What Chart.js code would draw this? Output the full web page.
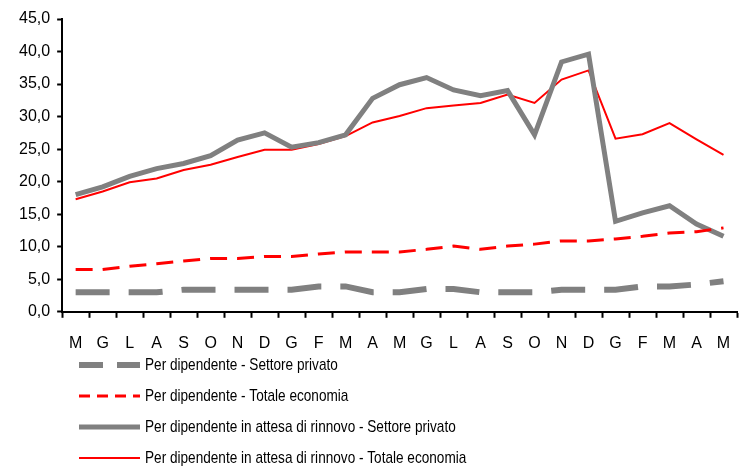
<!DOCTYPE html>
<html>
<head>
<meta charset="utf-8">
<script src="https://cdn.jsdelivr.net/npm/chart.js@4"></script>
<style>
  body { margin: 0; background: #fff; }
  #wrap { width: 749px; height: 471px; }
</style>
</head>
<body>
<div id="wrap"><canvas id="myChart" width="749" height="471"></canvas></div>
<script>
// mesi (mag -> mag, due anni)
var mesi = ['M','G','L','A','S','O','N','D','G','F','M','A','M','G','L','A','S','O','N','D','G','F','M','A','M'];

var privato = [3.0,3.0,3.0,3.0,3.4,3.4,3.4,3.4,3.4,3.9,3.9,3.0,3.0,3.5,3.5,3.0,3.0,3.0,3.4,3.4,3.4,3.9,3.9,4.2,4.7];
var totale = [6.5,6.5,7.0,7.4,7.8,8.2,8.2,8.5,8.5,8.9,9.2,9.2,9.2,9.6,10.1,9.6,10.1,10.4,10.9,10.9,11.2,11.6,12.1,12.3,12.9];
var attesaPrivato = [18.0,19.2,20.8,22.0,22.8,24.0,26.4,27.5,25.3,26.0,27.2,32.8,34.9,36.0,34.1,33.2,34.0,27.2,38.4,39.6,13.9,15.2,16.3,13.5,11.6];
var attesaTotale = [17.3,18.5,19.9,20.5,21.8,22.6,23.8,24.9,24.9,25.8,27.0,29.1,30.1,31.3,31.7,32.1,33.4,32.1,35.7,37.1,26.6,27.3,29.0,26.5,24.1];

var yTicks = [0,5,10,15,20,25,30,35,40,45];

var ctx = document.getElementById('myChart');

// legenda verticale disegnata sotto il grafico
var legendaSotto = {
    id: 'legendaSotto',
    afterDraw: function(chart) {
        var c = chart.ctx;
        var x0 = 79, x1 = 140, y = 365;
        c.save();
        chart.data.datasets.forEach(function(ds) {
            c.beginPath();
            c.strokeStyle = ds.borderColor;
            c.lineWidth = ds.borderWidth;
            c.setLineDash(ds.legendDash || []);
            c.moveTo(x0, y);
            c.lineTo(x1, y);
            c.stroke();
            c.setLineDash([]);
            // testo stretto come Arial Narrow
            c.save();
            c.translate(145, y);
            c.scale(0.8, 1);
            c.fillStyle = '#000';
            c.font = '17px "Liberation Sans", Arial';
            c.textBaseline = 'middle';
            c.fillText(ds.label, 0, 0);
            c.restore();
            y += 31;
        });
        c.restore();
    }
};

var myLineChart = new Chart(ctx, {
    type: 'line',
    data: {
        labels: mesi,
        datasets: [{
            label: 'Per dipendente - Settore privato',
            data: privato,
            borderColor: '#808080',
            borderWidth: 6,
            borderDash: [34, 19],
            legendDash: [24, 14],
            borderCapStyle: 'butt',
            pointRadius: 0,
            tension: 0,
            fill: false
        }, {
            label: 'Per dipendente - Totale economia',
            data: totale,
            borderColor: '#ff0000',
            borderWidth: 3,
            borderDash: [17, 10],
            legendDash: [11, 7],
            borderCapStyle: 'butt',
            pointRadius: 0,
            tension: 0,
            fill: false
        }, {
            label: 'Per dipendente in attesa di rinnovo - Settore privato',
            data: attesaPrivato,
            borderColor: '#808080',
            borderWidth: 5,
            pointRadius: 0,
            tension: 0,
            fill: false
        }, {
            label: 'Per dipendente in attesa di rinnovo - Totale economia',
            data: attesaTotale,
            borderColor: '#ff0000',
            borderWidth: 2,
            pointRadius: 0,
            tension: 0,
            fill: false
        }]
    },
    options: {
        responsive: false,
        animation: false,
        layout: { padding: { left: 12, right: 12, top: 19, bottom: 102 } },
        plugins: {
            legend: { display: false },
            tooltip: { enabled: false }
        },
        scales: {
            x: {
                offset: true,
                grid: { offset: true, drawOnChartArea: false, color: '#000', tickLength: 6, tickWidth: 2 },
                border: { color: '#000', width: 2 },
                ticks: { color: '#000', font: { family: '"Liberation Sans", Arial', size: 16 }, maxRotation: 0, autoSkip: false, padding: 16 }
            },
            y: {
                min: 0,
                max: 45,
                afterBuildTicks: function(axis) {
                    axis.ticks = yTicks.map(function(v) { return { value: v }; });
                },
                grid: { drawOnChartArea: false, color: '#000', tickLength: 5, tickWidth: 2 },
                border: { color: '#000', width: 2 },
                ticks: {
                    color: '#000',
                    font: { family: '"Liberation Sans", Arial', size: 16 },
                    padding: 7,
                    callback: function(v) { return v.toFixed(1).replace('.', ','); }
                }
            }
        }
    },
    plugins: [legendaSotto]
});
</script>
</body>
</html>
